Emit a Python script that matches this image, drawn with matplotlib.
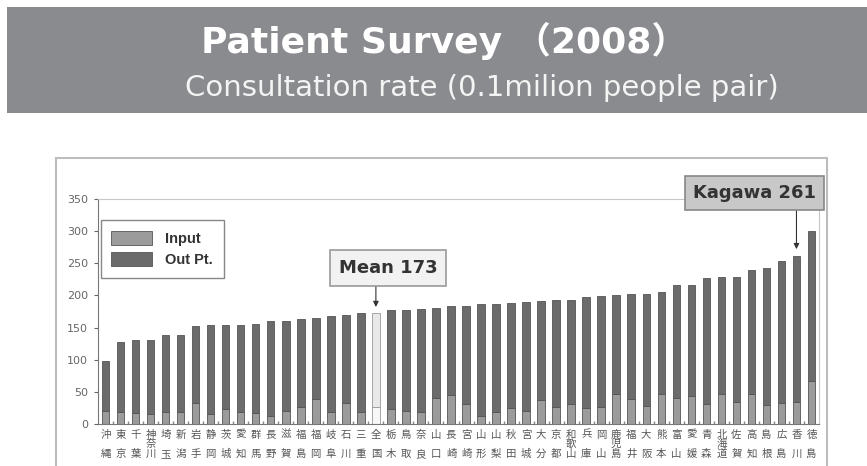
import numpy as np
import matplotlib
matplotlib.use('Agg')
import matplotlib.pyplot as plt
from matplotlib.patches import Rectangle

plt.rcParams['font.family'] = ['DejaVu Sans', 'Noto Sans CJK JP']

# prefectures sorted by consultation rate, 全国 = national mean
prefs = ['沖縄', '東京', '千葉', '神奈川', '埼玉', '新潟', '岩手', '静岡', '茨城', '愛知',
         '群馬', '長野', '滋賀', '福島', '福岡', '岐阜', '石川', '三重', '全国', '栃木',
         '鳥取', '奈良', '山口', '長崎', '宮崎', '山形', '山梨', '秋田', '宮城', '大分',
         '京都', '和歌山', '兵庫', '岡山', '鹿児島', '福井', '大阪', '熊本', '富山', '愛媛',
         '青森', '北海道', '佐賀', '高知', '島根', '広島', '香川', '徳島']
total = [98, 128, 130, 131, 138, 139, 153, 154, 154, 154,
         156, 160, 161, 164, 165, 168, 170, 172, 173, 177,
         177, 179, 181, 183, 183, 187, 187, 189, 190, 192,
         193, 193, 198, 199, 200, 202, 202, 205, 216, 216,
         227, 228, 229, 240, 242, 254, 261, 301]
inpatient = [20, 19, 17, 15, 18, 18, 32, 15, 24, 18,
             17, 13, 21, 27, 39, 18, 32, 19, 27, 24,
             21, 18, 40, 45, 31, 13, 18, 25, 21, 38,
             27, 31, 25, 27, 46, 39, 28, 46, 40, 44,
             31, 46, 34, 46, 29, 33, 35, 67]
yticks = [0, 50, 100, 150, 200, 250, 300, 350]

total = np.array(total)
inpatient = np.array(inpatient)
outpatient = total - inpatient
x = np.arange(len(prefs))
mean_i = prefs.index('全国')
kagawa_i = prefs.index('香川')

fig = plt.figure(figsize=(8.67, 4.66), dpi=100)

# grey banner on top
fig.add_artist(Rectangle((7 / 867, 1 - 113 / 466), 1, 106 / 466,
                         transform=fig.transFigure, fc='#8a8b8f', ec='none'))
fig.text(444 / 867, 1 - 41 / 466, 'Patient Survey （2008）', ha='center', va='center',
         color='white', fontsize=26, fontweight='bold',
         family=['DejaVu Sans', 'Noto Sans CJK JP'])
fig.text(482 / 867, 1 - 88 / 466, 'Consultation rate (0.1milion people pair)',
         ha='center', va='center', color='#f4f4f4', fontsize=21, family='DejaVu Sans')

# frame round the chart
fig.add_artist(Rectangle((56 / 867, -0.02), (827 - 56) / 867, (466 - 158) / 466 + 0.02,
                         transform=fig.transFigure, fill=False, ec='#bdbdbd', lw=1.5))

ax = fig.add_axes([98 / 867, 1 - 424 / 466, (819 - 98) / 867, (424 - 199) / 466])

in_col = ['#9b9b9b'] * len(prefs)
out_col = ['#6b6b6b'] * len(prefs)
in_col[mean_i] = '#f7f7f7'
out_col[mean_i] = '#e8e8e8'
b_in = ax.bar(x, inpatient, 0.5, color=in_col, edgecolor='#555555', lw=0.6, label='Input')
b_out = ax.bar(x, outpatient, 0.5, bottom=inpatient, color=out_col, edgecolor='#555555',
               lw=0.6, label='Out Pt.')
b_in[mean_i].set_edgecolor('#999999')
b_out[mean_i].set_edgecolor('#999999')

ax.set_xlim(-0.5, len(prefs) - 0.5)
ax.set_ylim(0, 350)
ax.set_yticks(yticks)
ax.tick_params(axis='y', labelsize=8, colors='#666666', length=3, width=0.8, pad=4)

def stack(name):
    if len(name) == 2:
        return name[0] + '\n\n' + name[1]
    return '\n'.join(name)

ax.set_xticks(x)
ax.set_xticklabels([stack(p) for p in prefs], fontsize=7.5, color='#555555',
                   family='Noto Sans CJK JP', linespacing=0.95)
ax.tick_params(axis='x', length=0, pad=4)
ax.set_xticks(x[:-1] + 0.5, minor=True)
ax.tick_params(axis='x', which='minor', direction='in', length=2.5, color='#888888', width=1)

for s in ['left', 'bottom']:
    ax.spines[s].set_color('#777777')
for s in ['top', 'right']:
    ax.spines[s].set_color('#c8c8c8')

leg = ax.legend(handles=[b_in, b_out], loc='upper left', bbox_to_anchor=(0.004, 0.905),
                borderaxespad=0, fancybox=False, edgecolor='#888888', framealpha=1,
                prop={'weight': 'bold', 'size': 10.5, 'family': 'Liberation Sans'},
                handlelength=2.8, handleheight=1.1, handletextpad=0.9,
                labelspacing=0.45, borderpad=0.72)
leg.get_frame().set_linewidth(1.0)
for t in leg.get_texts():
    t.set_color('#333333')

# call-outs
ax.annotate('', xy=(mean_i, total[mean_i] + 9), xytext=(mean_i, 218),
            arrowprops=dict(arrowstyle='-|>', color='#333333', lw=0.8,
                            shrinkA=0, shrinkB=0, mutation_scale=8))
ax.text(mean_i + 0.8, 243, 'Mean 173', ha='center', va='center', fontsize=13,
        fontweight='bold', color='#333333',
        bbox=dict(boxstyle='square,pad=0.5', fc='#f2f2f2', ec='#999999', lw=1.2))
ax.annotate('', xy=(kagawa_i, total[kagawa_i] + 11), xytext=(kagawa_i, 333),
            arrowprops=dict(arrowstyle='-|>', color='#333333', lw=0.8,
                            shrinkA=0, shrinkB=0, mutation_scale=8),
            annotation_clip=False)
ax.text(43.2, 359, 'Kagawa 261', ha='center', va='center', fontsize=13,
        fontweight='bold', color='#333333', clip_on=False,
        bbox=dict(boxstyle='square,pad=0.45', fc='#c8c8c8', ec='#888888', lw=1.2))

fig.savefig('out.png', dpi=100)
